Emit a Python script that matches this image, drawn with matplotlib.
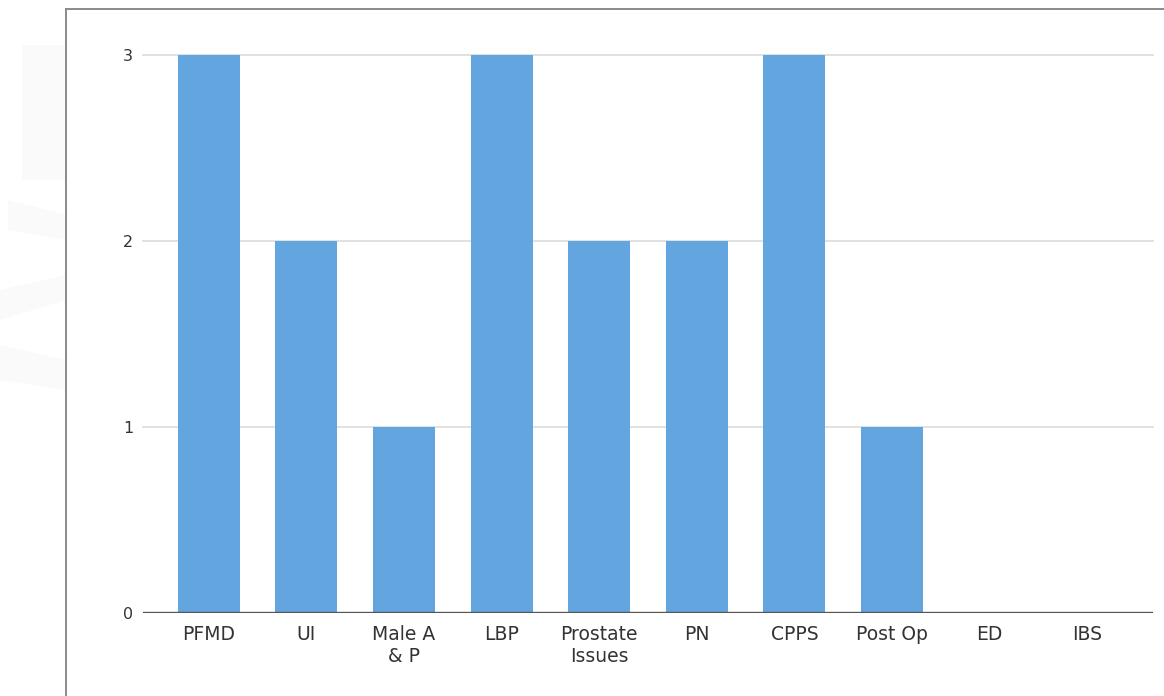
import matplotlib
matplotlib.use("Agg")
import matplotlib.pyplot as plt
from matplotlib.patches import Polygon
from matplotlib.lines import Line2D

categories = ["PFMD", "UI", "Male A\n& P", "LBP", "Prostate\nIssues",
              "PN", "CPPS", "Post Op", "ED", "IBS"]
counts = [3, 2, 1, 3, 2, 2, 3, 1, 0, 0]
y_ticks = [0, 1, 2, 3]

bar_color = "#63a5de"
text_color = "#333333"

plt.rcParams["font.family"] = ["DejaVu Sans"]

W, H = 1164, 696
fig = plt.figure(figsize=(W / 100, H / 100), dpi=100)
fig.patch.set_facecolor("white")

# faint background shapes in the left margin
for pts in ([(22, 45), (66, 45), (66, 180), (22, 180)],
            [(8, 200), (66, 215), (66, 240), (8, 230)],
            [(0, 290), (66, 275), (66, 300), (0, 320)],
            [(0, 345), (66, 360), (66, 390), (0, 380)]):
    fig.add_artist(Polygon([(px / W, 1 - py / H) for px, py in pts], closed=True,
                           transform=fig.transFigure, facecolor="#fafafb",
                           edgecolor="none", zorder=0))

# frame around the chart
fx, fy = 66 / W, 1 - 9 / H
fig.add_artist(Line2D([fx, fx], [fy, 0], transform=fig.transFigure,
                      color="#8a8a8a", lw=1.4))
fig.add_artist(Line2D([fx, 1.0], [fy, fy], transform=fig.transFigure,
                      color="#8a8a8a", lw=1.4))

ax = fig.add_axes([143 / W, 1 - 613 / H, (1153 - 143) / W, 558 / H])
ax.set_facecolor("none")

x = list(range(len(categories)))
ax.bar(x, counts, width=0.635, color=bar_color, edgecolor="none", zorder=3)

ax.set_xlim(-0.675, 9.675)
ax.set_ylim(0, 3)

for yv in y_ticks[1:]:
    ax.axhline(yv, color="#dcdcdc", lw=1.2, zorder=1, clip_on=False)
ax.axhline(0, color="#555555", lw=1.7, zorder=4)

for s in ax.spines.values():
    s.set_visible(False)

ax.set_yticks(y_ticks)
ax.set_yticklabels([str(t) for t in y_ticks])
ax.set_xticks(x)
ax.set_xticklabels(categories, linespacing=1.15)
ax.tick_params(axis="y", length=0, pad=7, labelsize=11.5, labelcolor=text_color)
ax.tick_params(axis="x", length=0, pad=9, labelsize=13.5, labelcolor=text_color)

fig.savefig("out.png", dpi=100, facecolor="white")
